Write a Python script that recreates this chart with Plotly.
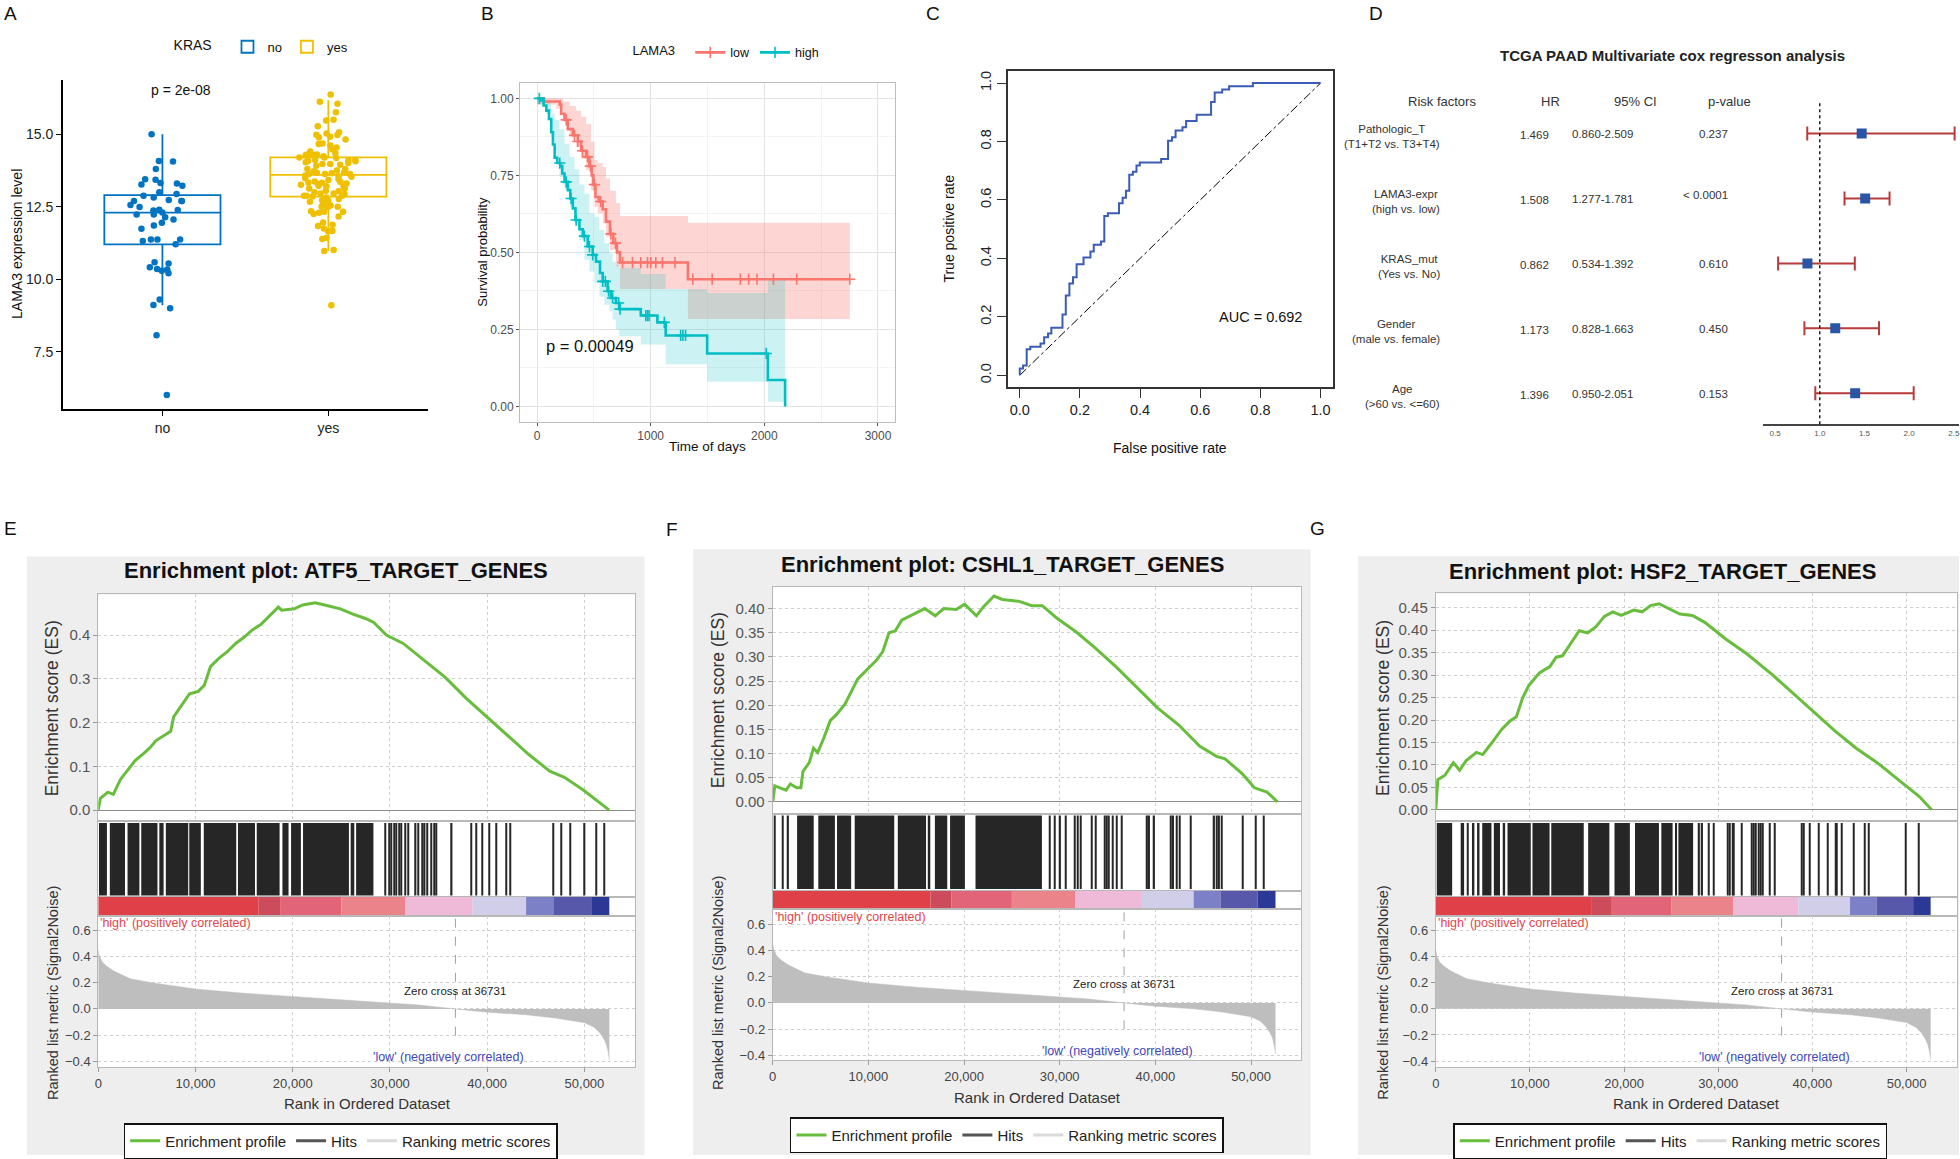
import numpy as np
import plotly.graph_objects as go

W, H = 1960, 1159
FONT = "Liberation Sans, Arial, Helvetica, sans-serif"


def fx(p):
    return p / W


def fy(p):
    return 1 - p / H


# ============================ DATA ============================
# ---- A: LAMA3 expression by KRAS status ----
kras_levels = ["no", "yes"]
kras_colors = ["#0073C2", "#EFC000"]
lama3_kras_no = [15.0, 14.08, 14.06, 13.8, 13.43, 13.45, 13.3, 13.27, 13.32, 13.22, 13.0, 12.94,
                 12.88, 12.82, 12.7, 12.7, 12.73, 12.7, 12.56, 12.49, 12.4, 12.39, 12.37, 12.3,
                 12.23, 12.23, 12.14, 12.06, 11.95, 11.85, 11.74, 11.37, 11.37, 11.37, 11.32, 11.21,
                 10.59, 10.54, 10.35, 10.41, 10.34, 10.29, 10.21, 9.3, 9.0, 9.11, 8.07, 6.01]
lama3_kras_yes = [16.37, 16.05, 16.12, 15.76, 15.5, 15.47, 15.27, 15.07, 15.02, 14.97, 14.98, 14.91,
                  14.89, 14.82, 14.66, 14.61, 14.68, 14.54, 14.48, 14.4, 14.34, 14.29, 14.29, 14.3,
                  14.29, 14.27, 14.24, 14.2, 14.2, 14.18, 14.11, 14.11, 14.11, 14.08, 14.07, 14.03,
                  13.97, 13.97, 14.01, 13.95, 13.91, 13.8, 13.75, 13.8, 13.72, 13.67, 13.68, 13.65,
                  13.63, 13.63, 13.63, 13.58, 13.53, 13.55, 13.48, 13.45, 13.42, 13.35, 13.33, 13.3,
                  13.37, 13.33, 13.26, 13.19, 13.22, 13.21, 13.29, 13.13, 13.13, 13.05, 13.03, 13.0,
                  12.96, 12.96, 12.94, 12.88, 12.88, 12.82, 12.85, 12.88, 12.77, 12.72, 12.71, 12.67,
                  12.58, 12.54, 12.5, 12.5, 12.5, 12.33, 12.34, 12.29, 12.33, 12.25, 12.16, 11.96,
                  11.88, 11.84, 11.75, 11.68, 11.66, 11.66, 11.39, 11.43, 10.97, 11.01, 9.1]
box_q1 = [11.2, 12.85]
box_median = [12.3, 13.6]
box_q3 = [12.9, 14.2]
box_lowerfence = [9.1, 10.97]
box_upperfence = [15.0, 16.17]
panel_a_pvalue = "p = 2e-08"

# ---- B: Kaplan-Meier, LAMA3 low / high ----
km_low_t = [0, 60, 200, 213, 242, 271, 315, 359, 388, 432, 461, 481, 496, 514, 543, 578, 607, 642,
            671, 703, 730, 1328]
km_low_s = [1.0, 0.99, 0.98, 0.95, 0.93, 0.90, 0.88, 0.86, 0.83, 0.81, 0.78, 0.75, 0.72, 0.68,
            0.665, 0.64, 0.60, 0.56, 0.53, 0.50, 0.467, 0.413]
km_low_end = 2752
km_low_censor = [257, 330, 359, 400, 445, 470, 505, 560, 650, 690, 753, 840, 913, 972, 1001, 1045,
                 1103, 1214, 1371, 1541, 1789, 1862, 1935, 2080, 2285, 2752]
km_low_band_t = [0, 170, 228, 286, 344, 388, 432, 475, 505, 534, 578, 607, 642, 694, 730, 1328]
km_low_upper = [1.0, 1.0, 0.99, 0.975, 0.96, 0.94, 0.917, 0.86, 0.80, 0.79, 0.777, 0.74, 0.70,
                0.66, 0.618, 0.596]
km_low_lower = [0.98, 0.966, 0.928, 0.874, 0.842, 0.804, 0.767, 0.702, 0.648, 0.627, 0.594, 0.551,
                0.508, 0.454, 0.381, 0.284]

km_high_t = [0, 38, 58, 82, 105, 125, 140, 155, 178, 204, 222, 242, 271, 292, 315, 338, 373, 403,
             446, 490, 519, 554, 578, 621, 651, 694, 724, 913, 1059, 1132, 1497, 2031, 2183]
km_high_s = [1.0, 0.993, 0.977, 0.96, 0.933, 0.89, 0.85, 0.807, 0.79, 0.78, 0.756, 0.729, 0.702,
             0.675, 0.643, 0.605, 0.575, 0.553, 0.519, 0.492, 0.47, 0.433, 0.406, 0.374, 0.352,
             0.336, 0.316, 0.295, 0.273, 0.2304, 0.172, 0.086, 0.0]
km_high_end = 2183
km_high_censor = [20, 200, 257, 300, 344, 417, 461, 490, 578, 601, 630, 665, 718, 730, 957, 972,
                  986, 1120, 1264, 1284, 1307, 2017]
km_high_band_t = [0, 82, 125, 155, 198, 242, 286, 330, 373, 417, 461, 505, 549, 592, 636, 665, 694,
                  724, 913, 1132, 1497, 2031]
km_high_upper = [1.0, 0.99, 0.95, 0.93, 0.9, 0.853, 0.81, 0.77, 0.72, 0.69, 0.627, 0.616, 0.573,
                 0.53, 0.497, 0.47, 0.46, 0.449, 0.43, 0.381, 0.368, 0.417]
km_high_lower = [0.98, 0.95, 0.874, 0.81, 0.745, 0.702, 0.648, 0.594, 0.54, 0.476, 0.438, 0.40,
                 0.357, 0.33, 0.31, 0.282, 0.25, 0.228, 0.201, 0.137, 0.08, 0.015]
km_pvalue = "p = 0.00049"

# ---- C: ROC ----
roc_fpr = [0, 0, 0.011, 0.023, 0.035, 0.069, 0.081, 0.094, 0.105, 0.142, 0.153, 0.165, 0.177, 0.189,
           0.212, 0.235, 0.246, 0.27, 0.281, 0.293, 0.33, 0.342, 0.353, 0.364, 0.376, 0.388, 0.399,
           0.47, 0.493, 0.506, 0.518, 0.541, 0.553, 0.588, 0.636, 0.648, 0.673, 0.696, 0.775, 1.0]
roc_tpr = [0, 0.023, 0.034, 0.089, 0.098, 0.109, 0.13, 0.143, 0.1625, 0.208, 0.273, 0.314, 0.336,
           0.38, 0.403, 0.424, 0.447, 0.458, 0.545, 0.555, 0.589, 0.608, 0.632, 0.686, 0.697, 0.718,
           0.728, 0.74, 0.803, 0.815, 0.8375, 0.849, 0.87, 0.892, 0.935, 0.968, 0.978, 0.989, 1.0,
           1.0]
roc_auc_text = "AUC = 0.692"

# ---- D: multivariate Cox ----
cox_title = "TCGA PAAD Multivariate cox regresson analysis"
cox_factor = ["Pathologic_T", "LAMA3-expr", "KRAS_mut", "Gender", "Age"]
cox_contrast = ["(T1+T2 vs. T3+T4)", "(high vs. low)", "(Yes vs. No)", "(male vs. female)",
                "(>60 vs. <=60)"]
cox_hr = [1.469, 1.508, 0.862, 1.173, 1.396]
cox_lo = [0.860, 1.277, 0.534, 0.828, 0.950]
cox_hi = [2.509, 1.781, 1.392, 1.663, 2.051]
cox_p = ["0.237", "< 0.0001", "0.610", "0.450", "0.153"]
cox_headers = ["Risk factors", "HR", "95% CI", "p-value"]
cox_ticks = [0.5, 1.0, 1.5, 2.0, 2.5]

# ---- E/F/G: GSEA (shared ranked list) ----
metric_rank = [0, 100, 400, 800, 1600, 3300, 5500, 10000, 15000, 20000, 25000, 30000, 33000,
               36731, 40000, 44000, 47000, 50000, 51000, 51600, 52000, 52250, 52450, 52560]
metric_value = [0.45, 0.41, 0.36, 0.33, 0.29, 0.23, 0.20, 0.152, 0.12, 0.094, 0.07, 0.045, 0.03,
                0.0, -0.025, -0.045, -0.07, -0.105, -0.14, -0.185, -0.23, -0.27, -0.33, -0.39]
zero_cross = 36731
cbar_edges = [0, 16500, 18700, 25000, 31600, 38500, 44000, 46800, 50700, 52560]
cbar_colors = ["rgb(224,64,72)", "rgb(204,76,92)", "rgb(226,100,120)", "rgb(234,132,138)",
               "rgb(238,186,216)", "rgb(208,206,232)", "rgb(124,128,198)", "rgb(88,88,170)",
               "rgb(44,56,150)"]

E_title = "Enrichment plot: ATF5_TARGET_GENES"
E_es_rank = [0, 215, 990, 1550, 2280, 2930, 3790, 4650, 5300, 5940, 6800, 7450, 7750, 8530, 9390,
             10250, 10900, 11540, 12400, 13270, 14130, 14990, 15850, 16710, 17570, 18520, 18860,
             20160, 21020, 22310, 23600, 24900, 26190, 27480, 28340, 29630, 31360, 33510, 35660,
             37820, 39970, 42120, 44280, 46430, 47940, 49880, 51600, 52550]
E_es_value = [0, 0.027, 0.041, 0.036, 0.07, 0.089, 0.113, 0.129, 0.142, 0.159, 0.17, 0.18, 0.213,
              0.237, 0.266, 0.271, 0.285, 0.328, 0.347, 0.362, 0.381, 0.395, 0.412, 0.424, 0.443,
              0.464, 0.457, 0.46, 0.469, 0.474, 0.467, 0.46, 0.448, 0.438, 0.429, 0.4, 0.381,
              0.343, 0.304, 0.256, 0.213, 0.17, 0.127, 0.089, 0.075, 0.046, 0.017, 0.0]
E_hit_block_start = [74, 1190, 3010, 4420, 6280, 6950, 9360, 10850, 14370, 16300, 18940, 19830,
                     21060, 25960, 26520]
E_hit_block_end = [892, 2750, 4230, 6090, 6720, 9250, 10550, 14190, 16120, 18650, 19570, 20840,
                   25780, 26330, 28300]
E_hit_single = [29490, 29930, 30160, 30450, 30680, 30970, 31200, 31570, 31900, 32650, 32910, 33310,
                33580, 33870, 34240, 34580, 34800, 36360, 38330, 38850, 39520, 40190, 40930, 41930,
                42380, 46760, 47610, 48540, 50030, 51220, 52030]
E_es_ticks = [0.0, 0.1, 0.2, 0.3, 0.4]

F_title = "Enrichment plot: CSHL1_TARGET_GENES"
F_es_rank = [0, 220, 750, 1400, 1840, 2500, 2940, 3160, 3820, 4260, 4700, 5360, 6010, 6670, 7550,
             8210, 8870, 9970, 10840, 11500, 12160, 12820, 13480, 14790, 15890, 16990, 17870,
             19180, 20060, 21290, 22040, 23130, 24010, 25770, 27090, 28180, 29720, 31700, 33670,
             35870, 38060, 40260, 42450, 44650, 46400, 47280, 49040, 50360, 51670, 52770]
F_es_value = [0, 0.033, 0.029, 0.024, 0.037, 0.029, 0.029, 0.063, 0.081, 0.111, 0.102, 0.133, 0.168,
              0.181, 0.202, 0.228, 0.254, 0.276, 0.293, 0.311, 0.35, 0.354, 0.376, 0.389, 0.4,
              0.385, 0.4, 0.398, 0.409, 0.385, 0.404, 0.426, 0.419, 0.415, 0.406, 0.406, 0.38,
              0.352, 0.319, 0.28, 0.237, 0.194, 0.159, 0.115, 0.094, 0.089, 0.059, 0.029, 0.02, 0.0]
F_hit_block_start = [2548, 4764, 6721, 8568, 13073, 16212, 16951, 18539, 21198]
F_hit_block_end = [4284, 6500, 8198, 12704, 16028, 16470, 18243, 20090, 28141]
F_hit_single = [222, 1071, 1625, 28953, 29507, 30061, 30652, 31610, 31910, 32200, 33310, 33755,
                34710, 34940, 35160, 35527, 35970, 36524, 39150, 39370, 39890, 41580, 41880, 42250,
                42510, 43726, 46160, 46380, 46680, 46980, 49154, 50520, 51296]
F_es_ticks = [0.0, 0.05, 0.10, 0.15, 0.20, 0.25, 0.30, 0.35, 0.40]

G_title = "Enrichment plot: HSF2_TARGET_GENES"
G_es_rank = [0, 220, 980, 1870, 2540, 3210, 4320, 4990, 5880, 7000, 7890, 8560, 9220, 9890, 11010,
             12120, 12790, 13460, 14350, 15240, 16130, 17020, 17910, 18800, 19700, 21030, 21920,
             22810, 23710, 24600, 25930, 27270, 28610, 30830, 33060, 35740, 37970, 40190, 42420,
             44650, 46880, 49110, 51330, 52670]
G_es_value = [0, 0.067, 0.077, 0.105, 0.088, 0.109, 0.128, 0.123, 0.147, 0.179, 0.198, 0.207,
              0.249, 0.277, 0.305, 0.319, 0.34, 0.343, 0.371, 0.399, 0.394, 0.408, 0.431, 0.441,
              0.433, 0.445, 0.441, 0.455, 0.459, 0.45, 0.436, 0.433, 0.417, 0.38, 0.347, 0.301,
              0.259, 0.217, 0.175, 0.137, 0.105, 0.067, 0.03, 0.0]
G_hit_block_start = [109, 2650, 3303, 3848, 4392, 4937, 6171, 7115, 7623, 10273, 12269, 16190,
                     18985, 21163, 23958, 25410, 25773]
G_hit_block_end = [1742, 3013, 3485, 4102, 4646, 5917, 6824, 7369, 10091, 12088, 15718, 18440,
                   20618, 23704, 25156, 25628, 27334]
G_hit_single = [27987, 28314, 28967, 29512, 31000, 31220, 31510, 31690, 32525, 33540, 33760, 33980,
                34270, 34490, 34700, 35501, 35973, 38880, 39060, 39749, 40656, 41672, 42470, 42620,
                43124, 44431, 45593, 46028, 49913, 51292]
G_es_ticks = [0.0, 0.05, 0.10, 0.15, 0.20, 0.25, 0.30, 0.35, 0.40, 0.45]

gsea_legend_names = ["Enrichment profile", "Hits", "Ranking metric scores"]

# ============================ FIGURE ============================
fig = go.Figure()
layout = {}
annotations = []
shapes = []


def ann(text, x, y, size, color="#000", xanchor="center", yanchor="middle", angle=0,
        bold=False, xref="paper", yref="paper"):
    if xref == "paper":
        x = fx(x)
    if yref == "paper":
        y = fy(y)
    t = f"<b>{text}</b>" if bold else text
    return dict(text=t, x=x, y=y, xref=xref, yref=yref, xanchor=xanchor, yanchor=yanchor,
                textangle=angle, showarrow=False,
                font=dict(size=size, color=color, family=FONT))


# Panel letters
for letter, (lx, ly) in zip("ABCDEFG", [(7, 13), (485, 13), (931, 13), (1376, 13), (7, 530),
                                         (670, 531), (1317, 530)]):
    annotations.append(ann(letter, lx, ly, 19, "#111"))

# ---------------- Panel A ----------------
for i, lvl in enumerate(kras_levels):
    fig.add_trace(go.Box(
        x=[lvl], q1=[box_q1[i]], median=[box_median[i]], q3=[box_q3[i]],
        lowerfence=[box_lowerfence[i]], upperfence=[box_upperfence[i]],
        name=lvl, boxpoints=False, fillcolor="white", whiskerwidth=0, width=0.7,
        line=dict(color=kras_colors[i], width=1.8), xaxis="x", yaxis="y",
        legend="legend", showlegend=True, hoverinfo="skip"))
for vals, lvl, col, jit in [(lama3_kras_no, "no", kras_colors[0], 0.62),
                            (lama3_kras_yes, "yes", kras_colors[1], 0.53)]:
    fig.add_trace(go.Box(
        x=[lvl] * len(vals), y=vals, boxpoints="all", jitter=jit, pointpos=0, width=0.7,
        fillcolor="rgba(0,0,0,0)", line=dict(color="rgba(0,0,0,0)", width=0),
        marker=dict(color=col, size=6.5), xaxis="x", yaxis="y", showlegend=False,
        hoverinfo="skip"))

layout["xaxis"] = dict(domain=[fx(59), fx(425)], anchor="y", type="category",
                       categoryorder="array", categoryarray=kras_levels, range=[-0.6, 1.6],
                       showline=True, linecolor="black", linewidth=1.5, ticks="outside",
                       ticklen=5, tickcolor="black", tickwidth=1.2, showgrid=False,
                       zeroline=False, tickfont=dict(size=14, color="#222", family=FONT))
layout["yaxis"] = dict(domain=[fy(410), fy(79)], anchor="x", range=[5.52, 16.88],
                       tickvals=[7.5, 10, 12.5, 15], tickformat=".1f", showline=True,
                       linecolor="black", linewidth=1.5, ticks="outside", ticklen=5,
                       tickcolor="black", tickwidth=1.2, showgrid=False, zeroline=False,
                       tickfont=dict(size=14, color="#222", family=FONT))
annotations.append(ann("LAMA3 expression level", 13, 244, 14, "#111", angle=-90))
annotations.append(ann(panel_a_pvalue, 177, 89, 14, "#111"))
layout["legend"] = dict(title=dict(text="KRAS  ", side="left",
                                   font=dict(size=14, family=FONT, color="#111")),
                        orientation="h", x=fx(168), y=fy(46), xanchor="left", yanchor="middle",
                        bgcolor="rgba(0,0,0,0)", font=dict(size=13, family=FONT, color="#111"),
                        itemwidth=30)

# ---------------- Panel B ----------------


def stepify(t, v, t_end):
    xs, ys = [], []
    for i in range(len(t)):
        t_next = t[i + 1] if i + 1 < len(t) else t_end
        xs += [t[i], t_next]
        ys += [v[i], v[i]]
    return xs, ys


def surv_at(times, surv, tq):
    idx = np.searchsorted(np.array(times), np.array(tq), side="right") - 1
    return list(np.array(surv)[idx])


km_groups = [
    ("low", "#F8766D", "rgba(248,118,109,0.30)", km_low_t, km_low_s, km_low_end, km_low_censor,
     km_low_band_t, km_low_upper, km_low_lower),
    ("high", "#00BFC4", "rgba(0,191,196,0.20)", km_high_t, km_high_s, km_high_end, km_high_censor,
     km_high_band_t, km_high_upper, km_high_lower),
]
for name, col, fillc, t, s, tend, cens, bt, bu, bl in km_groups:
    xu, yu = stepify(bt, bu, tend)
    xl, yl = stepify(bt, bl, tend)
    fig.add_trace(go.Scatter(x=xu + xl[::-1], y=yu + yl[::-1], fill="toself", fillcolor=fillc,
                             mode="lines", line=dict(width=0), hoverinfo="skip", showlegend=False,
                             xaxis="x2", yaxis="y2"))
for name, col, fillc, t, s, tend, cens, bt, bu, bl in km_groups:
    fig.add_trace(go.Scatter(x=list(t) + [tend], y=list(s) + [s[-1]], mode="lines",
                             line=dict(shape="hv", color=col, width=2.6), showlegend=False,
                             hoverinfo="skip", xaxis="x2", yaxis="y2"))
    fig.add_trace(go.Scatter(x=cens, y=surv_at(t, s, cens), mode="markers",
                             marker=dict(symbol="cross-thin", size=8,
                                         line=dict(color=col, width=1.6)),
                             showlegend=False, hoverinfo="skip", xaxis="x2", yaxis="y2"))
    fig.add_trace(go.Scatter(x=[None], y=[None], mode="lines+markers", name=name,
                             line=dict(color=col, width=2.6),
                             marker=dict(symbol="cross-thin", size=8, line=dict(color=col, width=1.6)),
                             legend="legend2", xaxis="x2", yaxis="y2"))

km_axis_common = dict(showline=True, mirror=True, linecolor="#BDBDBD", linewidth=1,
                      showgrid=True, gridcolor="#E3E3E3", gridwidth=1, zeroline=False,
                      ticks="outside", ticklen=3, tickcolor="#555",
                      tickfont=dict(size=12, color="#4D4D4D", family=FONT))
layout["xaxis2"] = dict(domain=[fx(517.3), fx(893.3)], anchor="y2", range=[-150, 3150],
                        tick0=0, dtick=1000,
                        minor=dict(dtick=500, tick0=0, showgrid=True, gridcolor="#F3F3F3"),
                        **km_axis_common)
layout["yaxis2"] = dict(domain=[fy(422.7), fy(82.3)], anchor="x2", range=[-0.05, 1.05],
                        tickvals=[0, 0.25, 0.5, 0.75, 1.0], tickformat=".2f",
                        minor=dict(tickvals=[0.125, 0.375, 0.625, 0.875], showgrid=True,
                                   gridcolor="#F3F3F3"),
                        **km_axis_common)
annotations.append(ann("Survival probability", 480, 252, 13, "#111", angle=-90))
annotations.append(ann("Time of days", 705, 447, 13.5, "#111"))
annotations.append(ann(km_pvalue, 58, 0.196, 16.5, "#111", xanchor="left", xref="x2", yref="y2"))
layout["legend2"] = dict(title=dict(text="LAMA3  ", side="left",
                                    font=dict(size=13, family=FONT, color="#111")),
                         orientation="h", x=fx(628), y=fy(52), xanchor="left", yanchor="middle",
                         bgcolor="rgba(0,0,0,0)", font=dict(size=12.5, family=FONT, color="#111"),
                         itemwidth=30)

# ---------------- Panel C ----------------
fig.add_trace(go.Scatter(x=[0, 1], y=[0, 1], mode="lines",
                         line=dict(color="black", width=1, dash="dashdot"), showlegend=False,
                         hoverinfo="skip", xaxis="x3", yaxis="y3"))
fig.add_trace(go.Scatter(x=roc_fpr, y=roc_tpr, mode="lines",
                         line=dict(shape="hv", color="#3A5CB6", width=2), showlegend=False,
                         hoverinfo="skip", xaxis="x3", yaxis="y3"))
roc_axis_common = dict(range=[-0.04, 1.04], tickvals=[0, 0.2, 0.4, 0.6, 0.8, 1.0],
                       tickformat=".1f", showline=True, mirror=True, linecolor="#333",
                       linewidth=1.6, ticks="outside", ticklen=9, tickcolor="#333", tickwidth=1.3,
                       showgrid=False, zeroline=False,
                       tickfont=dict(size=14.5, color="#222", family=FONT))
layout["xaxis3"] = dict(domain=[fx(1006.3), fx(1332)], anchor="y3", **roc_axis_common)
layout["yaxis3"] = dict(domain=[fy(387.7), fy(70.7)], anchor="x3", tickangle=-90,
                        **roc_axis_common)
annotations.append(ann("True positive rate", 947, 229, 14, "#111", angle=-90))
annotations.append(ann("False positive rate", 1169, 449, 14, "#111"))
annotations.append(ann(roc_auc_text, 0.8, 0.2, 14.5, "#111", xref="x3", yref="y3"))

# ---------------- Panel D ----------------
cox_rows = list(np.arange(len(cox_factor), 0, -1))
hr = np.array(cox_hr)
fig.add_trace(go.Scatter(
    x=cox_hr, y=cox_rows, mode="markers",
    marker=dict(symbol="square", size=10, color="#2A55A5"),
    error_x=dict(type="data", symmetric=False, array=list(np.array(cox_hi) - hr),
                 arrayminus=list(hr - np.array(cox_lo)), color="#B83A3A", thickness=2, width=7),
    showlegend=False, hoverinfo="skip", xaxis="x4", yaxis="y4"))
layout["xaxis4"] = dict(domain=[fx(1763.7), 1.0], anchor="y4", range=[0.367, 2.558],
                        tickvals=cox_ticks, tickformat=".1f", showline=True, linewidth=2,
                        linecolor="#444", ticks="", showgrid=False, zeroline=False,
                        ticklabeloverflow="allow",
                        tickfont=dict(size=8, color="#555", family=FONT))
layout["yaxis4"] = dict(domain=[fy(425), fy(100)], anchor="x4", range=[0.525, 5.506],
                        visible=False)
shapes.append(dict(type="line", xref="x4", yref="y4 domain", x0=1.0, x1=1.0, y0=0, y1=1,
                   line=dict(color="#111", width=1.4, dash="dot")))
annotations.append(ann(cox_title, 1673, 55, 15, "#222", bold=True))
for hx, htxt in zip([1441.5, 1550.6, 1635.5, 1730.4], cox_headers):
    annotations.append(ann(htxt, hx, 101, 13, "#333"))
for i in range(len(cox_factor)):
    annotations.append(dict(text=cox_factor[i] + "<br>" + cox_contrast[i], x=fx(1441.5),
                            y=cox_rows[i], xref="paper", yref="y4", showarrow=False, yshift=-3,
                            font=dict(size=11.5, color="#333", family=FONT)))
    annotations.append(dict(text=f"{cox_hr[i]:.3f}", x=fx(1550.6), y=cox_rows[i], xref="paper",
                            yref="y4", showarrow=False, yshift=-2,
                            font=dict(size=11.5, color="#333", family=FONT)))
    annotations.append(dict(text=f"{cox_lo[i]:.3f}-{cox_hi[i]:.3f}", x=fx(1635.5), y=cox_rows[i],
                            xref="paper", yref="y4", showarrow=False, yshift=-1,
                            font=dict(size=11.5, color="#333", family=FONT)))
    annotations.append(dict(text=cox_p[i], x=fx(1730.4), y=cox_rows[i], xref="paper", yref="y4",
                            showarrow=False, yshift=-1 if i != 1 else 3,
                            font=dict(size=11.5, color="#333", family=FONT)))

# ---------------- Panels E/F/G ----------------
GREEN = "rgb(104,190,60)"
GRID = dict(showgrid=True, gridcolor="#CFCFCF", griddash="dot", gridwidth=1)
BORDER = dict(showline=True, mirror=True, linecolor="#B8B8B8", linewidth=1)


def add_gsea(a0, pos, title, es_rank, es_value, blk_s, blk_e, singles, es_ticks, es_fmt, legname):
    L, R = pos["left"], pos["right"]
    xs = [f"x{a0 + k}" for k in range(4)]
    ys = [f"y{a0 + k}" for k in range(4)]
    xr = [0, pos["xmax"]]
    shapes.append(dict(type="rect", xref="paper", yref="paper", layer="below",
                       x0=fx(pos["bg"][0]), x1=fx(pos["bg"][2]), y0=fy(pos["bg"][3]),
                       y1=fy(pos["bg"][1]), fillcolor="#EEEEEE", line=dict(width=0)))
    shapes.append(dict(type="rect", xref="paper", yref="paper", layer="below",
                       x0=fx(L), x1=fx(R), y0=fy(pos["met_bot"]), y1=fy(pos["es_top"]),
                       fillcolor="white", line=dict(width=0)))
    fig.add_trace(go.Scatter(x=metric_rank, y=metric_value, mode="lines", fill="tozeroy",
                             fillcolor="#BEBEBE", line=dict(width=0.5, color="#BEBEBE"),
                             showlegend=False, hoverinfo="skip", xaxis=xs[3], yaxis=ys[3]))
    starts = list(blk_s) + list(singles)
    ends = list(blk_e) + list(singles)
    centers = [(s + e) / 2 for s, e in zip(starts, ends)]
    widths = [max(e - s, 130) for s, e in zip(starts, ends)]
    fig.add_trace(go.Bar(x=centers, y=[0.96] * len(centers), base=0.02, width=widths,
                         marker=dict(color="#262626", line=dict(width=0)), showlegend=False,
                         hoverinfo="skip", xaxis=xs[1], yaxis=ys[1]))
    cc = [(a + b) / 2 for a, b in zip(cbar_edges[:-1], cbar_edges[1:])]
    cw = [b - a for a, b in zip(cbar_edges[:-1], cbar_edges[1:])]
    fig.add_trace(go.Bar(x=cc, y=[1] * len(cc), base=0, width=cw,
                         marker=dict(color=cbar_colors, line=dict(width=0)), showlegend=False,
                         hoverinfo="skip", xaxis=xs[2], yaxis=ys[2]))
    fig.add_trace(go.Scatter(x=es_rank, y=es_value, mode="lines", name=gsea_legend_names[0],
                             line=dict(color=GREEN, width=3), legend=legname,
                             hoverinfo="skip", xaxis=xs[0], yaxis=ys[0]))
    fig.add_trace(go.Scatter(x=[None], y=[None], mode="lines", name=gsea_legend_names[1],
                             line=dict(color="#555555", width=3), legend=legname,
                             xaxis=xs[0], yaxis=ys[0]))
    fig.add_trace(go.Scatter(x=[None], y=[None], mode="lines", name=gsea_legend_names[2],
                             line=dict(color="#DADADA", width=3), legend=legname,
                             xaxis=xs[0], yaxis=ys[0]))
    xd = [fx(L), fx(R)]
    tick_font_es = dict(size=15, color="#555", family=FONT)
    tick_font_small = dict(size=13, color="#444", family=FONT)
    layout[f"xaxis{a0}"] = dict(domain=xd, anchor=ys[0], range=xr, showticklabels=False,
                                ticks="", tick0=0, dtick=10000, zeroline=False, **GRID, **BORDER)
    layout[f"yaxis{a0}"] = dict(domain=[fy(pos["es_bot"]), fy(pos["es_top"])], anchor=xs[0],
                                range=pos["es_range"], tickvals=es_ticks, tickformat=es_fmt,
                                ticks="outside", ticklen=4, tickcolor="#999",
                                tickfont=tick_font_es, zeroline=True, zerolinecolor="#8C8C8C",
                                zerolinewidth=1.2, **GRID, **BORDER)
    for k, (top, bot) in zip([1, 2], [(pos["es_bot"], pos["hits_bot"]),
                                     (pos["hits_bot"], pos["cbar_bot"])]):
        layout[f"xaxis{a0 + k}"] = dict(domain=xd, anchor=ys[k], range=xr, showticklabels=False,
                                        ticks="", showgrid=False, zeroline=False, **BORDER)
        layout[f"yaxis{a0 + k}"] = dict(domain=[fy(bot), fy(top)], anchor=xs[k], range=[0, 1],
                                        showticklabels=False, ticks="", showgrid=False,
                                        zeroline=False, **BORDER)
    layout[f"xaxis{a0 + 3}"] = dict(domain=xd, anchor=ys[3], range=xr, tick0=0, dtick=10000,
                                    tickformat=",d", ticks="outside", ticklen=4, tickcolor="#999",
                                    tickfont=tick_font_small, zeroline=False, **GRID, **BORDER)
    layout[f"yaxis{a0 + 3}"] = dict(domain=[fy(pos["met_bot"]), fy(pos["cbar_bot"])],
                                    anchor=xs[3], range=pos["met_range"],
                                    tickvals=[-0.4, -0.2, 0.0, 0.2, 0.4, 0.6], tickformat=".1f",
                                    ticks="outside", ticklen=4, tickcolor="#999",
                                    tickfont=tick_font_small, zeroline=False, **GRID, **BORDER)
    shapes.append(dict(type="line", xref=xs[3], yref=ys[3], x0=zero_cross, x1=zero_cross,
                       y0=0.69, y1=-0.24, line=dict(color="#A0A0A0", width=1, dash="dash")))
    annotations.append(ann(title, pos["title"][0], pos["title"][1], 22, "#111", bold=True))
    annotations.append(ann("Enrichment score (ES)", pos["ytitle_x"], pos["es_title_y"], 17.5,
                           "#333", angle=-90))
    annotations.append(ann("Ranked list metric (Signal2Noise)", pos["ytitle_x"],
                           pos["met_title_y"], 14.5, "#333", angle=-90))
    annotations.append(ann("Rank in Ordered Dataset", pos["xtitle"][0], pos["xtitle"][1], 15,
                           "#333"))
    annotations.append(ann("'high' (positively correlated)", 0, pos["high_y"], 12.5, "#E0474C",
                           xanchor="left", xref=xs[3], yref=ys[3]))
    annotations.append(ann(f"Zero cross at {zero_cross}", zero_cross, pos["zc_y"], 11.5, "#222",
                           xref=xs[3], yref=ys[3]))
    annotations.append(ann("'low' (negatively correlated)", 36000, -0.365, 12.5, "#4048B8",
                           xref=xs[3], yref=ys[3]))
    layout[legname] = dict(orientation="h", x=fx(pos["leg"][0]), y=fy(pos["leg"][1]),
                           xanchor="left", yanchor="top", bgcolor="white", bordercolor="#111",
                           borderwidth=1.5, font=dict(size=15, family=FONT, color="#222"),
                           itemwidth=30)


pos_E = dict(left=94.5, right=632.6, es_top=596, es_bot=824, hits_bot=900, cbar_bot=918.8,
             met_bot=1071.1, xmax=55200, es_range=[-0.026, 0.493], met_range=[-0.448, 0.712],
             bg=(23, 558, 642, 1159), title=(332.5, 572), ytitle_x=48.5, es_title_y=710,
             met_title_y=996, xtitle=(364, 1107), high_y=0.655, zc_y=0.135, leg=(120, 1127))
pos_F = dict(left=770.7, right=1300.6, es_top=588.4, es_bot=816.5, hits_bot=893.5, cbar_bot=911.6,
             met_bot=1064, xmax=55255, es_range=[-0.0252, 0.445], met_range=[-0.438, 0.718],
             bg=(690.7, 550.5, 1310, 1159), title=(1001, 566), ytitle_x=716, es_title_y=702,
             met_title_y=986, xtitle=(1036, 1101), high_y=0.658, zc_y=0.143, leg=(788, 1121))
pos_G = dict(left=1435.4, right=1958, es_top=595, es_bot=824, hits_bot=900, cbar_bot=918.8,
             met_bot=1071, xmax=55360, es_range=[-0.026, 0.482], met_range=[-0.448, 0.712],
             bg=(1357.6, 557.7, 1960, 1159), title=(1663, 573), ytitle_x=1382.5, es_title_y=710,
             met_title_y=996, xtitle=(1697, 1107), high_y=0.655, zc_y=0.135, leg=(1453, 1127))

add_gsea(5, pos_E, E_title, E_es_rank, E_es_value, E_hit_block_start, E_hit_block_end,
         E_hit_single, E_es_ticks, ".1f", "legend3")
add_gsea(9, pos_F, F_title, F_es_rank, F_es_value, F_hit_block_start, F_hit_block_end,
         F_hit_single, F_es_ticks, ".2f", "legend4")
add_gsea(13, pos_G, G_title, G_es_rank, G_es_value, G_hit_block_start, G_hit_block_end,
         G_hit_single, G_es_ticks, ".2f", "legend5")

layout.update(dict(width=W, height=H, autosize=False, margin=dict(l=0, r=0, t=0, b=0),
                   paper_bgcolor="white", plot_bgcolor="white", boxmode="overlay",
                   barmode="overlay", hovermode=False, annotations=annotations, shapes=shapes,
                   font=dict(family=FONT, color="#222")))
fig.update_layout(**layout)

fig.write_html("out.html", config={"displayModeBar": False},
               post_script="document.body.style.margin='0';document.body.style.overflow='hidden';")
